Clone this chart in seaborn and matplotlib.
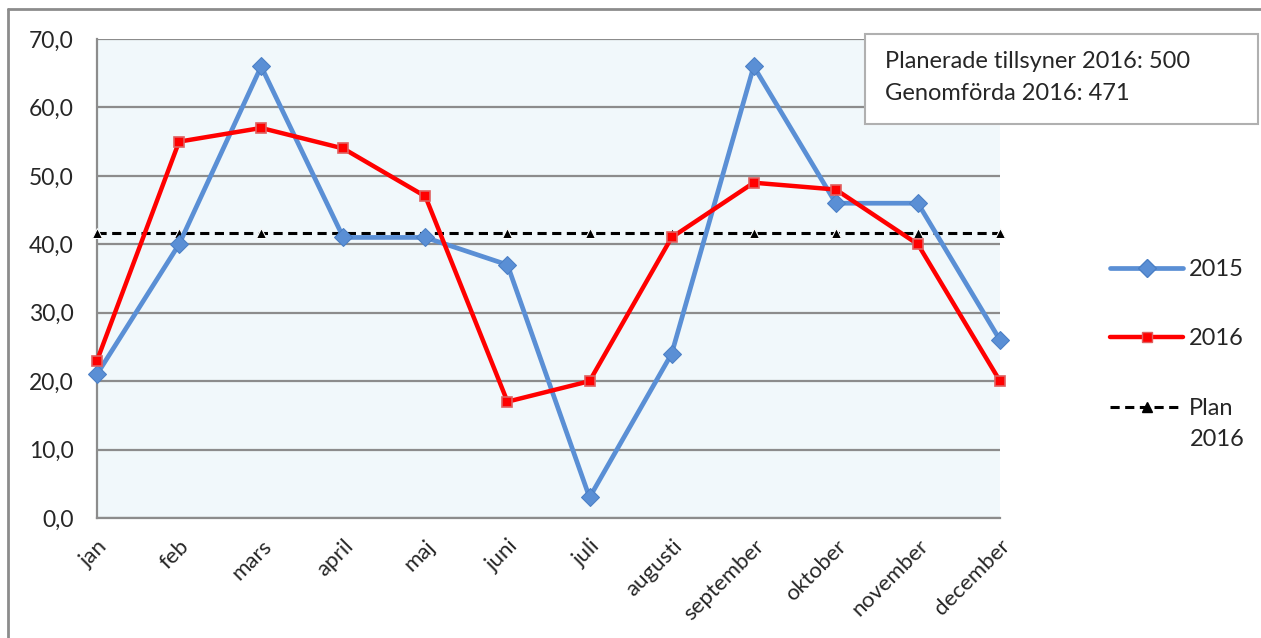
import matplotlib

matplotlib.use("Agg")
import matplotlib.pyplot as plt
import pandas as pd
import seaborn as sns
from matplotlib.lines import Line2D
from matplotlib.patches import Rectangle


MONTHS = ["jan", "feb", "mars", "april", "maj", "juni", "juli", "augusti",
          "september", "oktober", "november", "december"]
VALUES_2015 = [21, 40, 66, 41, 41, 37, 3, 24, 66, 46, 46, 26]
VALUES_2016 = [23, 55, 57, 54, 47, 17, 20, 41, 49, 48, 40, 20]
PLAN_2016 = [500 / 12] * 12
Y_TICKS = [0, 10, 20, 30, 40, 50, 60, 70]
NOTE_LINES = ["Planerade tillsyner 2016: 500", "Genomförda 2016: 471"]

GRID = "#8c8c8c"
BLUE = "#5a8fd5"
RED = "#ff0000"
FS = 17

W, H = 1261, 638


def px(x, y):
    return x / W, 1 - y / H


def main() -> None:
    sns.set_style("white")
    plt.rcParams["font.family"] = ["Lato", "DejaVu Sans"]

    df = pd.DataFrame({"month": MONTHS, "v2015": VALUES_2015,
                       "v2016": VALUES_2016, "plan": PLAN_2016})
    df["pos"] = range(len(MONTHS))

    fig = plt.figure(figsize=(W / 100, H / 100), dpi=100)
    l, b = px(97, 518)
    r, t = px(1000, 39)
    ax = fig.add_axes([l, b, r - l, t - b])
    ax.set_facecolor("#f1f8fb")

    sns.lineplot(data=df, x="pos", y="plan", ax=ax, color="black", lw=2.2,
                 ls=(0, (3, 1.8)), marker="^", markersize=7.5,
                 label="Plan", legend=False, clip_on=False, zorder=3)
    sns.lineplot(data=df, x="pos", y="v2015", ax=ax, color=BLUE, lw=3.4,
                 marker="D", markersize=9.5, markeredgecolor="#4a7fc5",
                 label="2015", legend=False, clip_on=False, zorder=4)
    sns.lineplot(data=df, x="pos", y="v2016", ax=ax, color=RED, lw=3.2,
                 marker="s", markersize=7, markeredgecolor="#e06060",
                 markeredgewidth=1.2, label="2016", legend=False,
                 clip_on=False, zorder=5)

    ax.set_xlim(0, len(MONTHS) - 1)
    ax.set_ylim(0, 70)
    ax.set_yticks(Y_TICKS)
    ax.set_yticklabels([f"{v:.1f}".replace(".", ",") for v in Y_TICKS],
                       fontsize=FS - 0.5)
    ax.set_xticks(df["pos"])
    ax.set_xticklabels(MONTHS, rotation=45, ha="right", va="top",
                       rotation_mode="anchor", fontsize=FS - 1)
    ax.set_xlabel("")
    ax.set_ylabel("")
    ax.grid(axis="y", color=GRID, lw=1.6)
    ax.set_axisbelow(True)
    for side in ["top", "right"]:
        ax.spines[side].set_visible(False)
    for side in ["left", "bottom"]:
        ax.spines[side].set_color(GRID)
        ax.spines[side].set_linewidth(1.6)
    ax.tick_params(axis="y", direction="out", length=5, width=1.6,
                   color=GRID, pad=12)
    ax.tick_params(axis="x", direction="out", length=5, width=1.6,
                   color=GRID, pad=8)

    handles = [
        Line2D([], [], color=BLUE, lw=3.4, marker="D", markersize=9.5,
               markeredgecolor="#4a7fc5"),
        Line2D([], [], color=RED, lw=3.2, marker="s", markersize=7,
               markeredgecolor="#e06060"),
        Line2D([], [], color="black", lw=2.2, ls=(0, (3, 1.8)), marker="^",
               markersize=7.5),
    ]
    fig.legend(handles, ["2015", "2016", "Plan"], loc="upper left",
               bbox_to_anchor=px(1110, 259), frameon=False, fontsize=FS,
               handlelength=3.1, handletextpad=0.25, labelspacing=2.05,
               borderaxespad=0, borderpad=0)
    fig.text(*px(1190, 439), "2016", fontsize=FS, va="center", ha="left")

    # note box
    bx0, by0 = px(865, 124)
    bx1, by1 = px(1258, 34)
    fig.patches.append(Rectangle((bx0, by0), bx1 - bx0, by1 - by0,
                                 transform=fig.transFigure, facecolor="white",
                                 edgecolor="#b0b0b0", lw=1.5, zorder=5))
    fig.text(*px(885, 62), NOTE_LINES[0], fontsize=FS, va="center", zorder=6)
    fig.text(*px(885, 94), NOTE_LINES[1], fontsize=FS, va="center", zorder=6)

    # chart area border (cut off at right and bottom)
    fig.lines.append(Line2D([8 / W, 1], [1 - 9 / H] * 2, transform=fig.transFigure,
                            color=GRID, lw=2))
    fig.lines.append(Line2D([8 / W] * 2, [0, 1 - 9 / H], transform=fig.transFigure,
                            color=GRID, lw=2))

    fig.savefig("out.png", dpi=100)
    plt.close(fig)


if __name__ == "__main__":
    main()
